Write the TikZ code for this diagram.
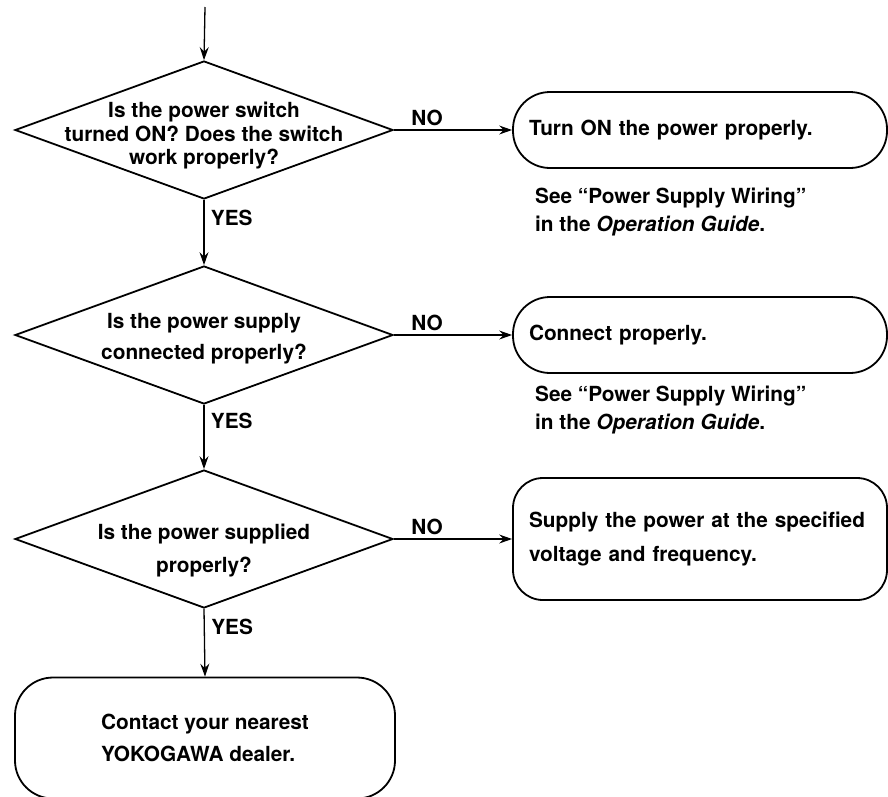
\documentclass[tikz,border=0pt]{standalone}
\usepackage{fontspec}
\setmainfont{TeX Gyre Heros}
\usepackage{tikz}
\usetikzlibrary{arrows.meta,shapes.geometric}

\begin{document}
\begin{tikzpicture}[x=1pt, y=-1pt,
    font=\fontsize{20.8}{23.5}\selectfont\bfseries,
    check/.style={diamond, draw, line width=1.8pt, minimum width=378pt,
      minimum height=138pt, inner sep=0pt},
    action/.style={rectangle, draw, line width=1.8pt, rounded corners=37pt,
      minimum width=374pt, minimum height=76pt, text width=342pt,
      inner xsep=16pt, align=left},
    flow/.style={-{Stealth[length=13pt,width=9pt,inset=4.5pt]}, line width=1.3pt},
    note/.style={anchor=west, align=left, inner sep=0pt}]
  \useasboundingbox (0,0) rectangle (888,796);

  % questions
  \node[check] (power) at (204,130) {};
  \node[align=center] (powerq) at (204,136)
    {Is the power switch\\turned ON? Does the switch\\work properly?};
  \node[check] (wired) at (204,335) {};
  \node[align=center] (wiredq) at (204,339)
    {Is the power supply\\[7.5pt]connected properly?};
  \node[check] (volt) at (204,539) {};
  \node[align=center] (voltq) at (204,551)
    {Is the power supplied\\[9.5pt]properly?};

  % what to do
  \node[action] (turnon) at (700,130) {Turn ON the power properly.};
  \node[action] (connect) at (700,335) {Connect properly.};
  \node[action, rounded corners=30pt, minimum height=122pt] (supply) at (700,539)
    {Supply the power at the specified\\[10.5pt]voltage and frequency.};
  \node[rectangle, draw, line width=1.8pt, rounded corners=38pt, minimum width=380pt,
    minimum height=121pt, align=left] (dealer) at (205,738)
    {Contact your nearest\\[8.5pt]YOKOGAWA dealer.};

  % references
  \node[note] (ref1) at (535,212)
    {See ``Power Supply Wiring''\\[4.5pt]in the \textit{Operation Guide}.};
  \node[note] (ref2) at (535,410)
    {See ``Power Supply Wiring''\\[4.5pt]in the \textit{Operation Guide}.};

  % connectors
  \coordinate (start) at (205,7);
  \draw[flow] (start) -- (power.north);
  \draw[flow] (power.south) -- node[pos=0.27, right, xshift=3pt] {YES} (wired.north);
  \draw[flow] (wired.south) -- node[pos=0.25, right, xshift=3pt] {YES} (volt.north);
  \draw[flow] (volt.south) -- node[pos=0.27, right, xshift=3pt] {YES} (dealer.north);
  \draw[flow] (power.east) -- node[pos=0.28, above] {NO} (turnon.west);
  \draw[flow] (wired.east) -- node[pos=0.28, above] {NO} (connect.west);
  \draw[flow] (volt.east) -- node[pos=0.28, above] {NO} (supply.west);
\end{tikzpicture}
\end{document}
